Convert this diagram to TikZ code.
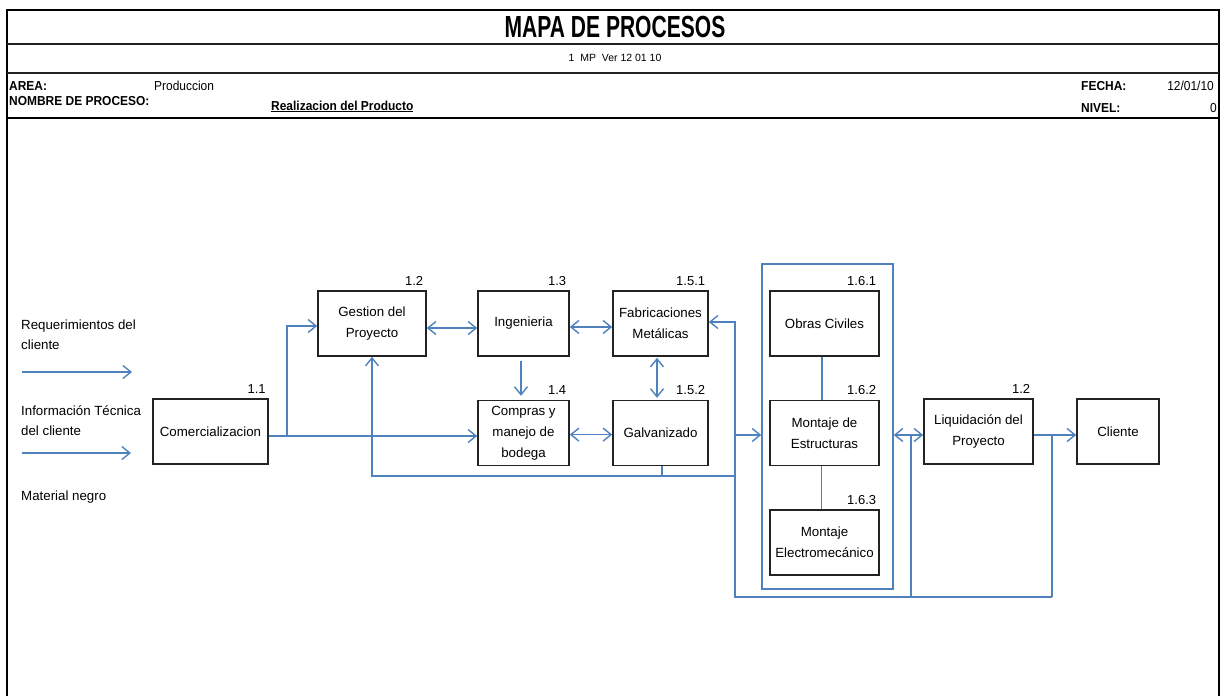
\documentclass[tikz,border=0pt]{standalone}
\usepackage{fontspec}
\setmainfont{Liberation Sans}
\newfontfamily\titlefont{Liberation Sans}[FakeStretch=0.69]
\newfontfamily\cabfont{Liberation Sans}[FakeStretch=0.92]
\usepackage{tikz}
\usetikzlibrary{arrows.meta, positioning}
\definecolor{mpblue}{RGB}{79, 129, 189}
\definecolor{mpgray}{RGB}{35, 35, 35}

\begin{document}
\begin{tikzpicture}[
    x=1pt, y=-1pt,
    >={Straight Barb[length=8pt,width=13pt]},
    proceso/.style={rectangle, draw=mpgray, line width=1.6pt,
                    minimum height=65pt, inner sep=2pt, align=center,
                    font=\fontsize{13.3}{21}\selectfont},
    num/.style={anchor=base east, inner sep=0pt,
                font=\fontsize{13}{15}\selectfont},
    texto/.style={inner sep=0pt, align=left,
                  font=\fontsize{13.3}{20}\selectfont},
    cab/.style={inner sep=0pt, anchor=base west,
                font=\cabfont\bfseries\fontsize{13}{14}\selectfont},
    dato/.style={inner sep=0pt, font=\cabfont\fontsize{13}{14}\selectfont},
    flecha/.style={draw=mpblue, line width=1.4pt},
]
    \useasboundingbox (0,0) rectangle (1225,696);

    % marco de la hoja
    \draw[line width=2.5pt] (7,696) -- (7,10) -- (1219,10) -- (1219,696);
    \draw[line width=1.2pt, mpgray] (7,44) -- (1219,44);
    \draw[line width=1.5pt, mpgray] (7,73) -- (1219,73);
    \draw[line width=2.5pt] (7,118) -- (1219,118);

    % encabezado
    \node[inner sep=0pt, font=\titlefont\bfseries\fontsize{30.5}{32}\selectfont]
          (titulo) at (615,27) {MAPA DE PROCESOS};
    \node[inner sep=0pt, font=\fontsize{10.5}{12}\selectfont]
          (version) at (615,58) {1\ \ MP\ \ Ver 12 01 10};
    \node[cab] (area) at (9,90) {AREA:};
    \node[dato, anchor=base west] (areav) at (154,90) {Produccion};
    \node[cab] (nombre) at (9,105) {NOMBRE DE PROCESO:};
    \node[cab] (nombrev) at (271,110) {\underline{Realizacion del Producto}};
    \node[cab] (fecha) at (1081,90) {FECHA:};
    \node[dato, anchor=base east] (fechav) at (1214,90) {12/01/10};
    \node[cab] (nivel) at (1081,112) {NIVEL:};
    \node[dato, anchor=base east] (nivelv) at (1217,112) {0};

    % entradas
    \node[texto, anchor=west] (req) at (21,335) {Requerimientos del\\cliente};
    \node[texto, anchor=west] (info) at (21,421) {Información Técnica\\del cliente};
    \node[texto, anchor=west] (mat) at (21,497) {Material negro};
    \coordinate (req1) at (22,372);
    \coordinate (req2) at (132,372);
    \coordinate (info1) at (22,453);
    \coordinate (info2) at (131,453);

    % grupo 1.6
    \node[draw=mpblue, line width=1.4pt, minimum width=131pt,
          minimum height=325pt] (grupo) at (827.5,426.5) {};

    % procesos
    \node[proceso, minimum width=115pt] (comer) at (210.5,431.5) {Comercializacion};
    \node[proceso, minimum width=108pt] (gest) at (372,323.5) {Gestion del\\Proyecto};
    \node[proceso, minimum width=91pt] (ing) at (523.5,323.5) {Ingenieria};
    \node[proceso, minimum width=95pt] (fab) at (660.5,323.5) {Fabricaciones\\Metálicas};
    \node[proceso, minimum width=91pt, below=43pt of ing] (comp) {Compras y\\manejo de\\bodega};
    \node[proceso, minimum width=95pt, below=43pt of fab] (galv) {Galvanizado};
    \node[proceso, minimum width=109pt] (obras) at (824.5,323.5) {Obras Civiles};
    \node[proceso, minimum width=109pt, below=43pt of obras] (mont) {Montaje de\\Estructuras};
    \node[proceso, minimum width=109pt, below=43pt of mont] (elec) {Montaje\\Electromecánico};
    \node[proceso, minimum width=109pt] (liq) at (978.5,431.5) {Liquidación del\\Proyecto};
    \node[proceso, minimum width=82pt] (cli) at (1118,431.5) {Cliente};

    % numeracion
    \node[num] (n11) at ([xshift=-3pt, yshift=5pt]comer.north east) {1.1};
    \node[num] (n12) at ([xshift=-3.5pt, yshift=5pt]gest.north east) {1.2};
    \node[num] (n13) at ([xshift=-3.5pt, yshift=5pt]ing.north east) {1.3};
    \node[num] (n151) at ([xshift=-3.5pt, yshift=5pt]fab.north east) {1.5.1};
    \node[num] (n14) at ([xshift=-3.5pt, yshift=5pt]comp.north east) {1.4};
    \node[num] (n152) at ([xshift=-3.5pt, yshift=5pt]galv.north east) {1.5.2};
    \node[num] (n161) at ([xshift=-3.5pt, yshift=5pt]obras.north east) {1.6.1};
    \node[num] (n162) at ([xshift=-3.5pt, yshift=5pt]mont.north east) {1.6.2};
    \node[num] (n163) at ([xshift=-3.5pt, yshift=5pt]elec.north east) {1.6.3};
    \node[num] (n12b) at ([xshift=-3.5pt, yshift=5pt]liq.north east) {1.2};

    % puntos de union
    \coordinate (jcom) at (287,436);
    \coordinate (jret) at (735,476);
    \coordinate (jsal) at (735,435);
    \coordinate (jfab) at (735,322);
    \coordinate (b1) at (735,597);
    \coordinate (b2) at (911,597);
    \coordinate (b3) at (1052,597);

    \draw[flecha, ->] (req1) -- (req2);
    \draw[flecha, ->] (info1) -- (info2);
    \draw[flecha, ->] (comer.east |- jcom) -- (comp.west |- jcom);
    \draw[flecha, ->] (jcom) |- ([yshift=-2.5pt]gest.west);
    \draw[flecha, <->] ([yshift=-4.5pt]gest.east) -- ([yshift=-4.5pt]ing.west);
    \draw[flecha, <->] ([yshift=-3.5pt]ing.east) -- ([yshift=-3.5pt]fab.west);
    \draw[flecha, ->, shorten <=4pt, shorten >=4pt]
          ([xshift=-2.5pt]ing.south) -- ([xshift=-2.5pt]comp.north);
    \draw[flecha, <->, shorten <=1pt, shorten >=2pt]
          ([xshift=-3.5pt]fab.south) -- ([xshift=-3.5pt]galv.north);
    \draw[flecha, <->] ([yshift=-1.5pt]comp.east) -- ([yshift=-1.5pt]galv.west);
    \draw[flecha] ([xshift=1.5pt]galv.south) -- ([xshift=1.5pt]galv.south |- jret);
    \draw[flecha, ->] (jret) -| (gest.south);
    \draw[flecha, ->] (b3) -- (b1) |- (fab.east |- jfab);
    \draw[flecha, ->] (jsal) -- (grupo.west |- jsal);
    \draw[flecha] ([xshift=-2.5pt]obras.south) -- ([xshift=-2.5pt]mont.north);
    \draw[flecha] ([xshift=-3pt]mont.south) -- ([xshift=-3pt]elec.north);
    \draw[flecha, <->] (grupo.east |- jsal) -- (liq.west |- jsal);
    \draw[flecha, ->] (liq.east |- jsal) -- (cli.west |- jsal);
    \draw[flecha] (b2) -- (b2 |- jsal);
    \draw[flecha] (b3) -- (b3 |- jsal);
\end{tikzpicture}
\end{document}
